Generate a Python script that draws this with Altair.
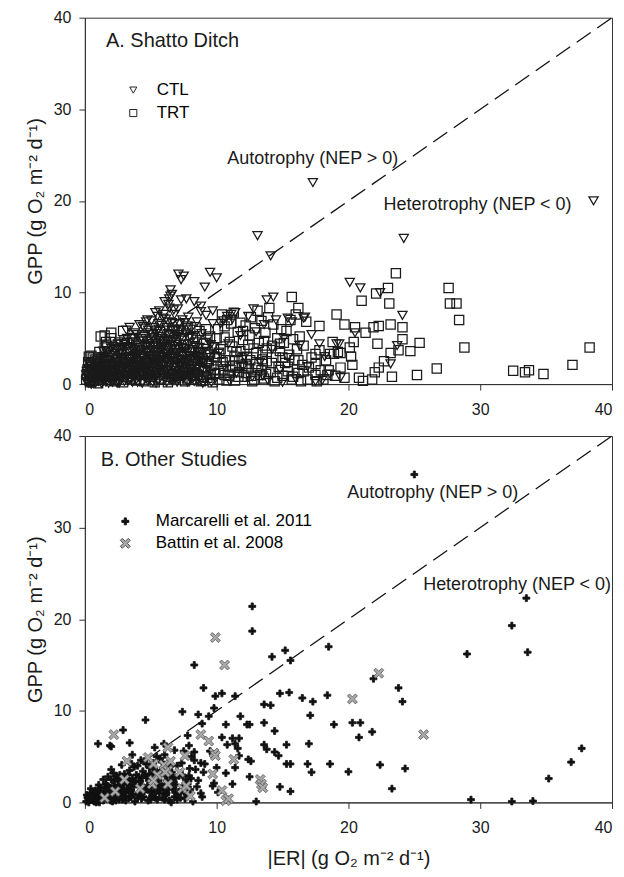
import altair as alt
import pandas as pd

FONT = "Liberation Sans"

# ---------------- data ----------------
axis_ticks = [0, 10, 20, 30, 40]
gpp_title = "GPP (g O₂ m⁻² d⁻¹)"
er_title = "|ER| (g O₂ m⁻² d⁻¹)"

# Panel A, CTL (open triangles)
ctl_points = [
    (17.3, 22.0), (38.6, 20.0), (13.1, 16.2), (24.2, 15.9), (14.1, 14.0), (7.1, 12.0), (7.5, 11.8),
    (7.3, 11.4), (9.5, 12.2), (10.0, 11.6), (9.1, 10.6), (20.1, 11.1), (20.9, 10.5), (22.4, 10.0),
    (6.5, 10.3), (6.6, 9.8), (6.4, 9.3), (7.7, 9.3), (8.3, 9.0), (7.3, 9.2), (13.8, 9.2), (14.3, 9.5),
    (24.1, 7.5), (23.7, 4.2), (23.2, 2.2), (17.8, 4.4), (18.0, 0.4), (19.3, 4.4), (20.5, 5.6), (3.4, 6.2),
    (12.8, 8.2), (16.7, 7.3), (11.4, 7.8), (8.8, 8.5), (9.7, 8.0), (11.1, 7.6), (15.4, 7.2), (10.5, 6.9),
    (0.1, 0.3), (0.2, 0.8), (0.3, 0.1), (0.4, 1.2), (0.5, 0.5), (0.6, 0.2), (0.7, 1.5), (0.8, 0.9),
    (0.9, 0.3), (0.95, 1.9), (0.15, 1.4), (0.45, 0.05), (0.75, 0.6), (0.35, 2.2), (0.55, 1.0),
    (1.1, 0.4), (1.2, 1.1), (1.3, 2.0), (1.4, 0.7), (1.5, 1.6), (1.6, 0.2), (1.7, 2.6), (1.8, 1.3),
    (1.9, 0.5), (1.05, 2.4), (1.35, 3.0), (1.55, 0.9), (1.75, 1.9), (1.95, 2.9), (1.25, 0.1), (1.65, 3.4),
    (2.1, 0.8), (2.2, 1.9), (2.3, 3.1), (2.4, 0.3), (2.5, 2.4), (2.6, 1.2), (2.7, 3.7), (2.8, 0.6),
    (2.9, 2.0), (2.15, 4.1), (2.35, 1.5), (2.55, 4.4), (2.75, 2.8), (2.95, 1.0), (2.45, 0.1), (2.65, 3.3),
    (2.85, 4.0), (3.1, 0.5), (3.2, 2.2), (3.3, 3.5), (3.4, 1.3), (3.5, 4.6), (3.6, 0.2), (3.7, 2.9),
    (3.8, 4.0), (3.9, 1.8), (3.05, 4.3), (3.25, 1.0), (3.45, 2.7), (3.65, 5.1), (3.85, 3.3), (3.15, 5.9),
    (3.55, 1.6), (3.75, 0.7), (3.95, 5.4), (4.1, 0.9), (4.2, 3.0), (4.3, 5.0), (4.4, 1.6), (4.5, 6.1),
    (4.6, 2.4), (4.7, 4.2), (4.8, 0.3), (4.9, 5.6), (4.05, 3.8), (4.25, 2.1), (4.45, 4.7), (4.65, 6.8),
    (4.85, 3.4), (4.15, 6.5), (4.35, 0.1), (4.55, 1.2), (4.75, 7.0), (4.95, 2.8), (5.1, 1.0), (5.2, 3.6),
    (5.3, 5.8), (5.4, 2.1), (5.5, 7.4), (5.6, 0.4), (5.7, 4.6), (5.8, 6.4), (5.9, 2.9), (5.05, 6.9),
    (5.25, 4.2), (5.45, 1.5), (5.65, 8.0), (5.85, 3.8), (5.15, 0.2), (5.35, 7.8), (5.55, 5.2), (5.75, 1.9),
    (5.95, 7.2), (5.5, 3.1), (6.1, 0.7), (6.2, 3.3), (6.3, 5.5), (6.4, 8.3), (6.5, 2.0), (6.6, 6.7),
    (6.7, 4.1), (6.8, 7.6), (6.9, 1.2), (6.05, 9.0), (6.25, 2.6), (6.45, 4.8), (6.65, 0.3), (6.85, 5.9),
    (6.15, 7.1), (6.35, 8.7), (6.55, 3.7), (6.75, 8.1), (6.95, 4.5), (6.5, 9.6), (7.1, 0.5), (7.2, 2.7),
    (7.3, 5.1), (7.4, 7.0), (7.5, 1.6), (7.6, 3.9), (7.7, 6.2), (7.8, 0.2), (7.9, 4.4), (7.05, 8.2),
    (7.25, 3.4), (7.45, 1.0), (7.65, 5.6), (7.85, 7.3), (7.15, 6.6), (7.55, 2.2), (7.95, 3.0), (8.1, 1.1),
    (8.2, 3.6), (8.3, 5.3), (8.4, 2.3), (8.5, 6.8), (8.6, 0.4), (8.7, 4.0), (8.8, 7.9), (8.9, 1.8),
    (8.05, 6.0), (8.25, 0.7), (8.45, 4.6), (8.65, 2.9), (8.85, 5.5), (8.95, 0.1), (9.1, 2.5), (9.3, 4.9),
    (9.5, 1.3), (9.7, 6.6), (9.9, 0.6), (9.2, 7.5), (9.4, 3.3), (9.6, 0.2), (9.8, 4.1), (10.3, 6.6),
    (10.6, 2.0), (10.9, 4.4), (11.2, 7.1), (11.5, 1.2), (11.8, 5.3), (12.1, 3.0), (12.4, 7.4), (12.7, 0.8),
    (13.0, 5.7), (13.3, 2.4), (13.6, 6.5), (13.9, 0.4), (14.2, 3.8), (14.5, 7.0), (14.8, 1.6), (15.1, 5.0),
    (15.4, 2.9), (15.7, 6.8), (16.0, 0.6), (16.3, 4.2), (16.6, 7.2), (16.9, 1.9), (17.2, 5.4), (17.5, 0.3),
    (18.2, 3.0), (18.6, 1.1), (19.1, 4.4), (19.4, 0.7), (11.0, 0.3), (12.0, 1.9), (13.5, 0.9), (15.0, 0.2),
    (10.2, 3.5), (10.8, 7.4),
    (0.2, 0.2), (0.3, 0.6), (0.6, 1.1), (0.8, 0.1), (1.0, 0.6), (1.2, 1.5), (1.4, 0.3), (1.6, 1.0),
    (1.8, 0.1), (2.0, 1.3), (2.2, 0.5), (2.4, 1.7), (2.6, 0.1), (2.8, 1.4), (3.0, 0.3), (3.2, 1.6),
    (3.4, 0.6), (3.6, 2.3), (3.8, 1.1), (4.0, 0.2), (4.2, 1.9), (4.4, 2.8), (4.6, 0.6), (4.8, 2.1),
    (5.0, 3.0), (5.2, 1.3), (5.4, 0.1), (5.6, 2.5), (5.8, 3.4), (6.0, 1.6), (6.2, 0.2), (6.4, 2.3),
    (6.6, 1.1), (6.8, 3.0), (7.0, 0.2), (7.2, 1.9), (7.4, 2.6), (7.6, 1.0), (7.8, 3.5), (8.0, 0.6),
    (8.2, 2.0), (8.4, 1.2), (8.6, 2.5), (8.8, 0.4), (9.0, 1.5), (0.9, 2.6), (1.4, 3.6), (2.0, 3.9),
    (2.6, 4.6), (3.2, 5.0), (3.8, 5.6), (4.4, 6.3), (5.0, 4.7), (5.6, 6.0), (6.2, 6.2), (6.8, 6.6),
    (7.4, 4.8), (8.0, 5.2), (8.6, 3.4), (0.5, 1.7), (1.1, 1.4), (1.7, 0.8), (2.3, 2.4), (2.9, 2.7),
    (3.5, 3.0), (4.1, 2.5), (4.7, 3.1), (5.3, 2.7), (5.9, 4.1), (6.5, 4.3), (7.1, 3.8), (7.7, 1.4),
    (8.3, 3.1), (8.9, 2.3), (9.5, 2.9), (3.3, 4.1), (4.5, 5.2), (5.1, 5.4), (6.0, 5.9), (6.9, 5.2),
    (7.6, 6.7), (0.4, 0.4), (1.3, 0.5), (2.1, 0.2), (2.7, 1.0), (3.3, 0.9), (3.9, 0.5), (4.3, 1.3),
    (4.9, 0.8), (5.5, 1.1), (6.1, 1.2), (6.7, 0.7), (7.3, 0.9), (7.9, 2.1), (8.5, 1.6), (9.2, 0.9),
    (5.7, 3.1), (6.3, 3.9), (4.6, 3.7), (3.7, 3.6), (2.2, 2.7), (1.6, 2.2), (5.2, 4.9), (6.6, 5.4),
    (0.1, 1.0), (0.3, 1.7), (0.5, 0.0), (0.7, 0.9), (0.9, 1.6), (1.1, 0.9), (1.3, 1.3), (1.5, 0.4),
    (1.7, 1.6), (1.9, 1.0), (2.1, 2.2), (2.3, 0.9), (2.5, 1.5), (2.7, 0.4), (2.9, 1.5), (3.1, 1.9),
    (3.3, 0.4), (3.5, 2.3), (3.7, 1.2), (3.9, 2.5), (4.1, 1.5), (4.3, 2.4), (4.5, 1.0), (4.7, 1.9),
    (4.9, 1.4), (5.1, 2.4), (5.3, 0.7), (5.5, 2.0), (5.7, 1.2), (5.9, 1.9), (6.1, 2.6), (6.3, 1.0),
    (6.5, 1.5), (6.7, 2.5), (6.9, 0.6), (7.1, 1.5), (7.3, 2.2), (7.5, 0.6), (7.7, 3.1), (7.9, 0.8),
    (8.1, 1.7), (8.3, 0.3), (8.5, 3.0), (0.6, 2.4), (1.2, 2.8), (1.8, 3.6), (2.4, 3.5), (3.0, 3.8),
    (3.6, 3.9), (4.2, 3.6), (4.8, 4.4), (5.4, 3.8), (6.0, 4.4), (6.6, 3.2), (7.2, 4.3), (7.8, 2.6),
    (8.4, 4.0), (3.4, 2.0), (4.0, 3.2), (4.6, 1.9), (5.2, 2.0), (5.8, 2.7), (6.4, 3.5), (7.0, 3.3),
    (2.6, 2.9), (2.0, 2.1), (1.4, 1.9), (0.8, 1.9),
    (0.25, 0.9), (0.45, 1.9), (0.65, 0.6), (0.85, 1.3), (1.05, 0.3), (1.15, 2.0), (1.35, 0.6), (1.45, 2.5),
    (1.65, 1.4), (1.85, 2.6), (2.05, 0.4), (2.25, 1.4), (2.45, 2.1), (2.55, 0.7), (2.75, 1.8), (2.85, 3.3),
    (3.05, 2.2), (3.15, 0.8), (3.35, 2.8), (3.45, 1.1), (3.65, 1.9), (3.75, 3.1), (3.95, 1.0), (4.05, 2.0),
    (4.15, 3.4), (4.35, 1.0), (4.45, 3.0), (4.55, 4.1), (4.65, 1.4), (4.75, 2.4), (4.85, 0.5), (4.95, 4.0),
    (5.05, 1.8), (5.15, 3.0), (5.25, 0.9), (5.35, 4.4), (5.45, 2.6), (5.55, 3.5), (5.65, 1.6), (5.75, 4.0),
    (5.85, 0.9), (5.95, 3.0), (6.05, 2.1), (6.15, 4.9), (6.25, 1.5), (6.35, 3.0), (6.45, 0.5), (6.55, 2.8),
    (6.65, 4.6), (6.75, 1.8), (6.85, 3.8), (6.95, 2.4), (7.05, 5.4), (7.15, 0.9), (7.25, 2.0), (7.35, 4.0),
    (7.45, 3.2), (7.55, 0.8), (7.65, 3.6), (7.75, 2.4), (7.85, 5.0), (7.95, 1.6), (8.15, 2.8), (8.35, 4.2),
    (8.55, 1.9), (8.75, 3.2), (8.95, 2.6), (9.15, 3.9), (9.35, 1.8), (9.55, 4.3), (5.6, 6.6), (6.0, 7.6),
    (5.2, 6.2), (4.8, 5.9), (6.3, 6.8), (7.0, 6.0), (5.9, 5.0), (6.7, 5.8), (7.3, 5.8), (4.2, 4.8),
    (3.6, 4.5), (3.0, 4.4), (2.3, 3.8), (1.5, 2.9), (0.9, 2.2), (0.4, 1.6), (5.4, 5.5), (6.2, 4.7),
]

# Panel A, TRT (open squares)
trt_points = [
    (23.6, 12.1), (27.6, 10.5), (23.0, 10.5), (22.1, 9.9), (21.0, 9.1), (23.1, 8.8), (27.7, 8.8),
    (28.2, 8.8), (28.4, 7.0), (28.8, 4.0), (15.7, 9.5), (16.2, 8.3), (17.8, 6.35), (19.1, 7.6),
    (19.7, 6.5), (20.5, 6.2), (21.3, 5.6), (21.9, 6.2), (22.3, 6.35), (23.2, 6.5), (24.1, 6.2),
    (20.4, 4.6), (22.2, 4.4), (24.1, 4.9), (25.4, 4.5), (24.7, 3.6), (23.8, 3.7), (23.2, 3.4),
    (38.3, 4.0), (37.0, 2.1), (26.7, 1.7), (25.2, 1.0), (32.5, 1.45), (33.4, 1.3), (33.7, 1.5),
    (34.8, 1.1), (23.3, 0.8), (22.7, 2.5), (22.3, 1.8), (22.0, 1.3), (21.8, 0.5), (21.1, 0.35),
    (20.8, 0.7), (20.3, 2.1), (19.7, 0.7), (18.9, 3.3), (19.4, 3.4), (17.9, 1.5), (18.5, 1.5),
    (16.9, 0.5), (17.5, 2.2), (17.5, 3.3), (20.1, 4.0), (20.2, 3.0), (1.5, 5.3), (2.0, 5.6),
    (2.9, 5.8), (1.7, 4.2), (0.5, 3.1),
    (0.1, 0.5), (0.2, 1.6), (0.3, 3.0), (0.4, 0.2), (0.5, 2.3), (0.6, 1.0), (0.7, 0.4), (0.8, 2.7),
    (0.9, 1.3), (1.0, 0.1), (1.1, 3.5), (1.2, 5.2), (1.3, 0.8), (1.4, 2.0), (1.5, 4.0), (1.6, 4.6),
    (1.7, 1.1), (1.8, 3.1), (1.9, 0.5), (2.0, 5.0), (0.25, 2.4), (0.55, 1.8), (1.05, 1.7), (1.55, 2.6),
    (2.1, 1.5), (2.2, 3.8), (2.3, 0.3), (2.4, 2.6), (2.5, 4.3), (2.6, 0.9), (2.7, 1.9), (2.8, 3.3),
    (2.9, 0.2), (3.0, 4.8), (3.1, 2.4), (3.2, 4.5), (3.3, 1.2), (3.4, 3.0), (3.5, 0.6), (3.6, 4.9),
    (3.7, 1.8), (3.8, 3.7), (3.9, 0.4), (4.0, 2.1), (4.1, 4.2), (4.2, 1.0), (4.3, 3.1), (4.4, 5.3),
    (4.5, 0.3), (4.6, 2.5), (4.7, 4.0), (4.8, 1.4), (4.9, 3.6), (5.0, 0.8), (5.1, 5.0), (5.2, 2.7),
    (5.3, 0.2), (5.4, 4.4), (5.5, 1.9), (5.6, 3.2), (5.7, 5.7), (5.8, 0.5), (5.9, 2.3), (6.0, 4.6),
    (6.1, 1.5), (6.2, 3.9), (6.3, 0.2), (6.4, 2.8), (6.5, 5.2), (6.6, 1.1), (6.7, 3.4), (6.8, 0.6),
    (6.9, 4.8), (7.0, 2.0), (7.1, 5.9), (7.2, 0.9), (7.3, 3.0), (7.4, 1.7), (7.5, 4.3), (7.6, 0.3),
    (7.7, 2.6), (7.8, 6.3), (7.9, 1.2), (8.0, 3.7), (8.1, 0.5), (8.2, 5.0), (8.3, 2.2), (8.4, 6.2),
    (8.5, 1.0), (8.6, 3.5), (8.7, 5.8), (8.8, 0.3), (8.9, 2.7), (9.0, 4.4), (9.1, 1.5), (9.2, 6.0),
    (9.3, 0.7), (9.4, 3.2), (9.5, 5.2), (9.6, 2.0), (9.7, 0.2), (9.8, 4.0), (9.9, 1.1), (10.0, 2.9),
    (10.1, 6.0), (10.2, 0.5), (10.3, 3.8), (10.4, 7.6), (10.5, 1.6), (10.6, 5.1), (10.7, 2.6), (10.8, 7.0),
    (10.9, 0.9), (11.0, 4.6), (11.1, 6.6), (11.2, 2.0), (11.3, 7.8), (11.4, 0.4), (11.5, 3.5), (11.6, 5.7),
    (11.7, 1.3), (11.8, 6.7), (11.9, 2.8), (12.0, 4.8), (12.1, 0.8), (12.2, 6.4), (12.3, 3.0), (12.4, 1.7),
    (12.5, 5.3), (12.6, 7.3), (12.7, 0.3), (12.8, 3.9), (12.9, 6.1), (13.0, 2.2), (13.1, 8.0), (13.2, 4.5),
    (13.3, 1.0), (13.4, 6.9), (13.5, 3.2), (13.6, 0.6), (13.7, 5.6), (13.8, 2.5), (13.9, 7.3), (14.0, 8.3),
    (14.1, 1.3), (14.2, 4.2), (14.3, 6.5), (14.4, 0.3), (14.5, 2.9), (14.6, 5.0), (14.7, 1.9), (14.8, 3.6),
    (14.9, 6.0), (15.0, 0.9), (15.1, 4.5), (15.2, 2.3), (15.3, 5.8), (15.4, 1.4), (15.5, 3.2), (15.6, 7.0),
    (15.7, 0.5), (15.8, 4.9), (15.9, 2.6), (16.0, 7.6), (16.1, 3.8), (16.2, 1.2), (16.3, 5.2), (16.4, 0.3),
    (16.5, 2.1), (16.6, 4.2), (16.8, 6.8), (17.0, 1.8), (17.2, 2.9), (17.5, 1.0), (17.8, 3.7), (18.1, 0.5),
    (18.3, 2.6), (18.6, 3.3), (18.8, 4.6), (19.0, 0.9), (19.2, 3.5), (19.4, 1.8), (18.4, 1.0), (17.6, 0.3),
    (0.15, 1.1), (0.35, 0.4), (0.65, 2.9), (0.95, 2.0), (1.25, 0.5), (1.45, 1.4), (1.85, 2.2), (2.05, 0.8),
    (2.35, 1.1), (2.65, 2.3), (2.95, 1.6), (3.25, 0.8), (3.55, 2.2), (3.85, 1.3), (4.15, 0.5), (4.45, 2.0),
    (4.75, 1.1), (5.05, 2.4), (5.35, 1.6), (5.65, 0.6), (5.95, 1.3), (6.25, 2.4), (6.55, 0.8), (6.85, 2.0),
    (7.15, 1.3), (7.45, 2.3), (7.75, 0.6), (8.05, 1.8), (8.35, 0.9), (8.65, 1.6), (8.95, 0.4), (9.25, 2.3),
    (9.55, 1.0), (9.85, 3.0), (10.15, 1.2), (10.45, 2.4), (10.75, 0.4), (11.05, 1.5), (11.35, 3.0),
    (11.65, 0.8), (11.95, 2.0), (12.25, 1.2), (12.55, 2.6), (12.85, 0.5), (13.15, 1.8), (13.45, 2.7),
    (13.75, 1.1),
    (8.2, 1.3), (8.6, 2.9), (9.0, 0.8), (9.4, 2.5), (9.8, 1.6), (10.2, 3.3), (10.6, 1.0), (11.0, 2.6),
    (11.4, 1.8), (11.8, 3.6), (12.2, 2.2), (12.6, 0.9), (13.0, 3.4), (13.4, 1.5), (13.8, 3.9), (14.2, 2.3),
    (14.6, 0.7), (15.0, 2.9), (15.4, 1.9), (15.8, 0.8), (16.2, 2.6), (16.6, 1.4), (9.2, 4.5), (10.0, 5.0),
    (11.2, 4.1), (12.4, 4.3), (13.6, 4.7), (14.8, 4.4), (10.6, 6.3), (12.0, 5.8),
]

# Panel B, Marcarelli et al. 2011 (filled plus)
mar_points = [
    (25.0, 35.8), (12.7, 21.4), (12.7, 18.7), (33.5, 22.3), (32.4, 19.3), (33.6, 16.4), (29.0, 16.2),
    (18.5, 17.0), (15.2, 16.6), (15.6, 15.5), (14.2, 15.9), (8.3, 15.0), (9.0, 12.5), (9.9, 11.6),
    (10.4, 11.9), (11.4, 11.6), (14.8, 11.9), (15.5, 12.0), (16.5, 11.4), (17.3, 11.0), (18.4, 11.7),
    (23.8, 12.5), (24.1, 11.0), (21.9, 13.5), (13.6, 10.7), (14.1, 10.6), (9.8, 10.3), (7.4, 9.9),
    (4.6, 9.0), (8.6, 9.6), (9.4, 9.4), (11.8, 9.4), (12.3, 8.5), (12.5, 8.5), (10.7, 8.5), (13.6, 8.7),
    (14.4, 7.8), (17.1, 9.5), (18.9, 8.5), (20.3, 8.7), (20.9, 8.7), (20.8, 7.1), (21.8, 7.7), (17.0, 6.4),
    (18.6, 4.2), (20.0, 3.35), (22.4, 4.1), (24.3, 3.7), (23.3, 1.5), (29.3, 0.3), (32.4, 0.1), (34.0, 0.15),
    (35.2, 2.6), (36.9, 4.4), (37.7, 5.9), (16.9, 4.2), (17.2, 3.3), (15.3, 4.2), (15.6, 4.2), (15.3, 6.3),
    (14.8, 1.7), (15.6, 1.2), (13.0, 0.1), (12.5, 2.8), (13.6, 6.3), (13.8, 5.8), (14.4, 5.5), (14.7, 5.1),
    (11.7, 7.0), (11.2, 7.0), (10.8, 6.3), (11.4, 6.4), (11.6, 5.9), (11.7, 5.1), (11.4, 3.8), (12.4, 4.7),
    (12.6, 4.5), (10.7, 3.2), (11.2, 2.0), (9.8, 2.1), (10.4, 7.1), (10.1, 1.1), (1.0, 6.4), (1.9, 6.2),
    (2.0, 6.1), (2.9, 7.9), (3.4, 6.5), (3.6, 5.2), (5.3, 6.0), (6.0, 6.4), (7.8, 7.3), (8.9, 8.6),
    (8.3, 5.5), (8.8, 4.3), (9.1, 4.2), (9.5, 5.6), (9.7, 1.8), (10.0, 3.8), (7.9, 6.2), (6.8, 5.7),
    (0.1, 0.1), (0.2, 0.5), (0.3, 0.0), (0.4, 1.0), (0.5, 0.3), (0.6, 0.7), (0.7, 0.1), (0.8, 1.3),
    (0.9, 0.4), (1.0, 0.9), (1.1, 0.0), (1.2, 1.6), (1.3, 0.6), (1.4, 0.2), (1.5, 1.1), (1.6, 2.0),
    (1.7, 0.4), (1.8, 1.4), (1.9, 0.8), (2.0, 2.5), (2.1, 0.1), (2.2, 1.8), (2.3, 0.6), (2.4, 2.9),
    (2.5, 1.2), (2.6, 0.3), (2.7, 2.2), (2.8, 1.6), (2.9, 0.9), (3.0, 3.1), (3.1, 0.2), (3.2, 2.0),
    (3.3, 1.3), (3.4, 3.5), (3.5, 0.6), (3.6, 2.6), (3.7, 1.7), (3.8, 0.1), (3.9, 3.0), (4.0, 4.0),
    (4.1, 1.0), (4.2, 2.3), (4.3, 0.4), (4.4, 3.4), (4.5, 4.5), (4.6, 1.5), (4.7, 2.8), (4.8, 0.2),
    (4.9, 3.8), (5.0, 2.0), (5.1, 0.7), (5.2, 4.3), (5.3, 1.2), (5.4, 3.1), (5.5, 0.3), (5.6, 2.4),
    (5.7, 4.8), (5.8, 1.8), (5.9, 0.5), (6.0, 3.6), (6.1, 2.9), (6.2, 1.0), (6.3, 4.2), (6.4, 0.2),
    (6.5, 2.2), (6.6, 3.3), (6.7, 1.5), (6.8, 0.6), (6.9, 2.7), (7.0, 4.0), (7.2, 1.1), (7.4, 3.0),
    (7.6, 0.4), (7.8, 2.0), (8.0, 1.4), (8.2, 0.1), (8.4, 3.6), (8.6, 2.4), (8.8, 1.0), (9.0, 3.3),
    (0.25, 0.6), (0.65, 0.2), (1.05, 1.9), (1.35, 0.9), (1.65, 1.2), (1.95, 0.2), (2.25, 2.4), (2.55, 1.9),
    (2.85, 0.3), (3.15, 2.6), (3.45, 1.9), (3.75, 3.9), (4.05, 0.8), (4.35, 2.7), (4.65, 4.2), (4.95, 1.1),
    (5.25, 3.7), (5.55, 1.9), (5.85, 4.4), (6.15, 0.8), (6.45, 3.9), (6.75, 2.2), (7.05, 0.9), (7.35, 4.3),
    (7.65, 2.5), (7.95, 3.7), (8.3, 4.6), (8.9, 0.6), (0.45, 1.5), (0.85, 0.0), (1.25, 0.3), (1.75, 2.8),
    (2.15, 3.2), (2.65, 3.0), (3.05, 1.1), (3.55, 4.2), (4.25, 4.6), (4.85, 2.4), (5.45, 5.0), (6.05, 5.2),
    (6.55, 0.0), (7.15, 2.9), (7.5, 5.6), (8.1, 5.0),
    (0.3, 0.3), (0.55, 0.9), (0.75, 0.5), (0.95, 0.1), (1.15, 1.2), (1.45, 0.7), (1.55, 1.6), (1.85, 0.5),
    (2.05, 1.5), (2.35, 0.2), (2.45, 1.3), (2.75, 0.9), (2.95, 2.0), (3.25, 1.5), (3.35, 0.5), (3.65, 0.9),
    (3.85, 2.3), (4.15, 1.7), (4.45, 0.6), (4.55, 3.0), (4.75, 1.8), (5.05, 1.3), (5.15, 3.2), (5.35, 0.5),
    (5.65, 1.0), (5.75, 3.5), (6.05, 0.3), (6.25, 2.4), (6.35, 1.4), (6.65, 2.8), (6.85, 1.1), (7.25, 0.5),
    (7.45, 1.8), (7.7, 0.9), (8.05, 2.6), (8.5, 1.7), (2.0, 3.6), (2.8, 4.1), (3.3, 3.0), (1.4, 2.5),
    (0.15, 0.8), (0.5, 0.6), (0.9, 1.1), (1.3, 1.0), (1.7, 1.8), (2.1, 1.1), (2.5, 2.5), (2.9, 1.3),
    (3.3, 2.4), (3.7, 2.2), (4.1, 2.8), (4.5, 1.2), (4.9, 3.1), (5.3, 2.2), (5.7, 1.4), (6.1, 2.0),
    (6.5, 3.0), (6.9, 1.9), (7.3, 1.4), (7.9, 2.9), (1.0, 0.3), (2.0, 0.5), (3.0, 0.7), (4.0, 0.5),
    (5.0, 0.3), (6.0, 1.3), (7.0, 0.3), (3.5, 1.3), (4.3, 1.9), (2.6, 1.6),
]

# Panel B, Battin et al. 2008 (grey X)
bat_points = [
    (9.9, 18.0), (10.6, 15.0), (22.3, 14.1), (20.3, 11.3), (25.7, 7.4), (2.2, 7.4), (8.8, 7.4),
    (9.4, 6.7), (9.8, 5.4), (9.9, 5.1), (11.3, 4.7), (6.3, 6.0), (7.6, 5.1), (3.2, 4.5), (5.2, 4.2),
    (6.0, 4.1), (6.3, 3.5), (7.2, 3.3), (9.7, 3.1), (10.4, 1.3), (10.7, 0.2), (10.9, 0.4), (13.3, 2.5),
    (13.4, 2.0), (13.5, 1.6), (7.4, 1.5), (8.0, 0.7), (6.3, 2.0), (5.1, 2.0), (1.5, 0.5), (2.3, 1.2),
    (3.0, 2.5), (4.2, 1.5), (5.5, 3.0), (6.5, 4.5), (4.8, 4.9), (6.1, 3.3), (5.2, 2.4), (7.7, 1.8),
]

top_notes_left = [("A. Shatto Ditch", 1.6, 37.4)]
top_notes = [("Autotrophy (NEP > 0)", 17.3, 24.6), ("Heterotrophy (NEP < 0)", 29.8, 19.6)]
bot_notes_left = [("B. Other Studies", 1.2, 37.4)]
bot_notes = [("Autotrophy (NEP > 0)", 26.4, 33.8), ("Heterotrophy (NEP < 0)", 32.8, 23.7)]
diag = [0, 40]

# ---------------- build ----------------
def frame(points, name):
    return pd.DataFrame({"x": [p[0] for p in points], "y": [p[1] for p in points], "series": name})

top_df = pd.concat([frame(ctl_points, "CTL"), frame(trt_points, "TRT")], ignore_index=True)
bot_df = pd.concat([frame(mar_points, "Marcarelli et al. 2011"),
                    frame(bat_points, "Battin et al. 2008")], ignore_index=True)
line_df = pd.DataFrame({"x": diag, "y": diag})

W, H = 528, 367
AX = dict(grid=False, tickSize=6, labelFontSize=16, titleFontSize=20,
          labelFont=FONT, titleFont=FONT, titleFontWeight="normal", domainColor="#333",
          tickColor="#333", labelColor="#1a1a1a", titleColor="#1a1a1a")


def x_enc(title):
    if title:
        return alt.X("x:Q", scale=alt.Scale(domain=[0, 40], nice=False),
                     axis=alt.Axis(title=title, values=axis_ticks, labelPadding=11, titlePadding=13, **AX))
    return alt.X("x:Q", scale=alt.Scale(domain=[0, 40], nice=False),
                 axis=alt.Axis(title=None, values=axis_ticks, labelPadding=11, **AX))


def y_enc():
    return alt.Y("y:Q", scale=alt.Scale(domain=[0, 40], nice=False),
                 axis=alt.Axis(title=gpp_title, values=axis_ticks, labelPadding=8, titlePadding=8, **AX))


def notes_layer(notes, align, size):
    df = pd.DataFrame(notes, columns=["label", "x", "y"])
    return alt.Chart(df).mark_text(align=align, baseline="middle", fontSize=size, font=FONT,
                                   color="#1a1a1a").encode(
        x=alt.X("x:Q", scale=alt.Scale(domain=[0, 40], nice=False)),
        y=alt.Y("y:Q", scale=alt.Scale(domain=[0, 40], nice=False)),
        text="label:N")


def diag_layer(xt):
    return alt.Chart(line_df).mark_line(color="#111", strokeWidth=1.3, strokeDash=[17, 8]).encode(
        x=x_enc(xt), y=y_enc())


top_pts = alt.Chart(top_df).mark_point(filled=False, strokeWidth=1.25, size=85, opacity=1).encode(
    x=x_enc(None), y=y_enc(),
    shape=alt.Shape("series:N", scale=alt.Scale(domain=["CTL", "TRT"], range=["triangle-down", "square"]),
                    legend=alt.Legend(title=None, orient="none", legendX=40, legendY=64,
                                      labelFontSize=17, labelFont=FONT, symbolSize=50,
                                      symbolStrokeWidth=1, symbolStrokeColor="#222",
                                      symbolFillColor="transparent", labelOffset=15,
                                      rowPadding=5, padding=0)),
    color=alt.value("#1a1a1a"),
)

top = alt.layer(diag_layer(None), top_pts, notes_layer(top_notes_left, "left", 20),
                notes_layer(top_notes, "center", 18)).properties(width=W, height=H)

plus_path = "M-1,-0.3L-0.3,-0.3L-0.3,-1L0.3,-1L0.3,-0.3L1,-0.3L1,0.3L0.3,0.3L0.3,1L-0.3,1L-0.3,0.3L-1,0.3Z"
xpath = "M-1,-0.6L-0.6,-1L0,-0.4L0.6,-1L1,-0.6L0.4,0L1,0.6L0.6,1L0,0.4L-0.6,1L-1,0.6L-0.4,0Z"
dom = ["Marcarelli et al. 2011", "Battin et al. 2008"]
leg = alt.Legend(title=None, orient="none", legendX=32, legendY=77, labelFontSize=17, labelFont=FONT,
                 labelOffset=22, rowPadding=4, padding=0, symbolStrokeWidth=1)
bot_pts = alt.Chart(bot_df).mark_point(filled=True, strokeWidth=0.8, opacity=1).encode(
    x=x_enc(er_title), y=y_enc(),
    shape=alt.Shape("series:N", scale=alt.Scale(domain=dom, range=[plus_path, xpath]), legend=leg),
    fill=alt.Fill("series:N", scale=alt.Scale(domain=dom, range=["#111111", "#a8a8a8"]), legend=leg),
    stroke=alt.Stroke("series:N", scale=alt.Scale(domain=dom, range=["#111111", "#555555"]), legend=leg),
    size=alt.Size("series:N", scale=alt.Scale(domain=dom, range=[48, 100]), legend=leg),
)

bottom = alt.layer(diag_layer(er_title), bot_pts, notes_layer(bot_notes_left, "left", 20),
                   notes_layer(bot_notes, "center", 18)).properties(width=W, height=H)

chart = alt.vconcat(top, bottom, spacing=9).resolve_scale(
    shape="independent", fill="independent", stroke="independent", size="independent",
    color="independent").resolve_legend(
    shape="independent", fill="independent", stroke="independent", size="independent",
    color="independent").properties(
    padding={"left": 16, "top": 0, "right": 0, "bottom": 0}, background="white"
).configure_view(stroke="#333", strokeWidth=1)

chart.save("out.html", embed_options={"renderer": "svg", "actions": False})
